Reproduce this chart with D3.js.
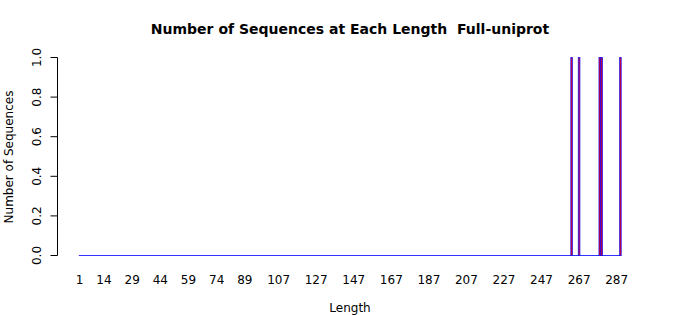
<!DOCTYPE html>
<html>
<head>
<meta charset="utf-8">
<script src="https://cdn.jsdelivr.net/npm/d3@7"></script>
<style>
  body { margin: 0; background: #fff; }
  text { font-family: "DejaVu Sans", sans-serif; fill: #000; white-space: pre; }
</style>
</head>
<body>
<div id="chart"></div>
<script>
// sequence lengths 1..289, only a few have a sequence
const lengths = d3.range(1, 290);
const hitLengths = [263, 267, 278, 279, 289];
const counts = lengths.map(l => hitLengths.includes(l) ? 1 : 0);
const xLabels = [1, 14, 29, 44, 59, 74, 89, 107, 127, 147, 167, 187, 207, 227, 247, 267, 287];
const yTicks = [0, 0.2, 0.4, 0.6, 0.8, 1.0];

const width = 700, height = 315;

const svg = d3.select("#chart").append("svg")
  .attr("width", width)
  .attr("height", height);

const x = d3.scaleBand()
  .domain(lengths)
  .range([78.8, 621.2])
  .paddingInner(0.1667)
  .paddingOuter(0);

const y = d3.scaleLinear()
  .domain([0, 1])
  .range([255.5, 57.5]);

// baseline made of the zero-height bar borders
svg.append("line")
  .attr("x1", x(lengths[0]))
  .attr("x2", x(lengths[lengths.length - 1]) + x.bandwidth())
  .attr("y1", y(0)).attr("y2", y(0))
  .attr("stroke", "blue")
  .attr("stroke-opacity", 0.8)
  .attr("stroke-width", 1.2);

// bars
svg.append("g")
  .selectAll("rect")
  .data(lengths.filter((l, i) => counts[i] > 0))
  .join("rect")
  .attr("x", l => x(l))
  .attr("width", x.bandwidth())
  .attr("y", l => y(counts[l - 1]))
  .attr("height", l => y(0) - y(counts[l - 1]))
  .attr("fill", "red")
  .attr("stroke", "blue")
  .attr("stroke-opacity", 0.75)
  .attr("stroke-width", 1);

// y axis, R style
const yAxis = svg.append("g").attr("transform", "translate(57.5,0)");
yAxis.append("line")
  .attr("y1", y(0)).attr("y2", y(1))
  .attr("stroke", "#000");
yAxis.selectAll("line.tick")
  .data(yTicks)
  .join("line")
  .attr("class", "tick")
  .attr("x1", 0).attr("x2", -7)
  .attr("y1", d => y(d))
  .attr("y2", d => y(d))
  .attr("stroke", "#000");
yAxis.selectAll("text")
  .data(yTicks)
  .join("text")
  .attr("transform", d => `translate(-17,${y(d)}) rotate(-90)`)
  .attr("text-anchor", "middle")
  .attr("font-size", 12)
  .text(d => d.toFixed(1));

// x names
svg.append("g")
  .selectAll("text")
  .data(xLabels)
  .join("text")
  .attr("x", d => x(d) + x.bandwidth() / 2)
  .attr("y", 284)
  .attr("text-anchor", "middle")
  .attr("font-size", 12)
  .text(d => d);

svg.append("text")
  .attr("x", 350)
  .attr("y", 34)
  .attr("text-anchor", "middle")
  .attr("font-size", 14)
  .attr("font-weight", "bold")
  .text("Number of Sequences at Each Length  Full-uniprot");

svg.append("text")
  .attr("x", 350)
  .attr("y", 312)
  .attr("text-anchor", "middle")
  .attr("font-size", 12)
  .text("Length");

svg.append("text")
  .attr("transform", "translate(13,157) rotate(-90)")
  .attr("text-anchor", "middle")
  .attr("font-size", 12)
  .text("Number of Sequences");
</script>
</body>
</html>
